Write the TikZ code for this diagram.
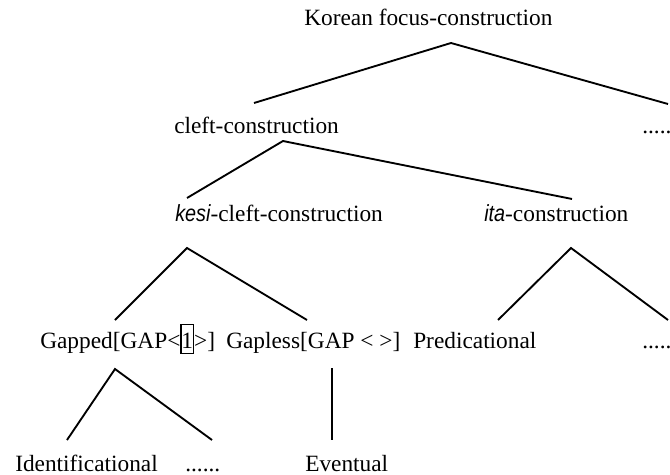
\documentclass[tikz,border=0pt]{standalone}
\usepackage{fontspec}
\setmainfont{Liberation Serif}
\newfontfamily\itsans[FakeStretch=0.85]{Liberation Sans}
\newcommand{\obj}[1]{{\itsans\itshape #1}}
\newcommand{\tagbox}[1]{{\setlength{\fboxsep}{0pt}\setlength{\fboxrule}{0.8pt}\fbox{\rule[-3.75pt]{0pt}{21pt}#1}}}
\begin{document}
\begin{tikzpicture}[x=0.75pt,y=-0.75pt,
  lbl/.style={anchor=base west,inner sep=0pt,font=\fontsize{17.5pt}{21pt}\selectfont},
  branch/.style={line width=1.4pt,line join=miter}]
\useasboundingbox (0,0) rectangle (670,474);

% labels
\node[lbl] (root)   at (304,25.5) {Korean focus-construction};
\node[lbl] (cleft)  at (174,133) {cleft-construction};
\node[lbl] (more1)  at (642,133) {.....};
\node[lbl] (kesi)   at (175,221) {\obj{kesi}-cleft-construction};
\node[lbl] (ita)    at (484,221) {\obj{ita}-construction};
\node[lbl] (gapped) at (40,348) {Gapped[GAP<\tagbox{1}>]};
\node[lbl] (gapless) at (226,348) {Gapless[GAP < >]};
\node[lbl] (pred)   at (413,348) {Predicational};
\node[lbl] (more2)  at (642,348) {......};
\node[lbl] (ident)  at (15,471) {Identificational};
\node[lbl] (more3)  at (185,471) {......};
\node[lbl] (event)  at (305,471) {Eventual};

% branch points
\coordinate (rootTop)  at (451,43);
\coordinate (rootL)    at (254,103);
\coordinate (rootR)    at (668,104);
\coordinate (cleftTop) at (283,141);
\coordinate (cleftL)   at (187,198);
\coordinate (cleftR)   at (572,199);
\coordinate (kesiTop)  at (187,248);
\coordinate (kesiL)    at (115,320);
\coordinate (kesiR)    at (307,320);
\coordinate (itaTop)   at (571,248);
\coordinate (itaL)     at (498,320);
\coordinate (itaR)     at (668,320);
\coordinate (gapTop)   at (115,369);
\coordinate (gapL)     at (67,440);
\coordinate (gapR)     at (212,440);
\coordinate (evTop)    at (332,368);
\coordinate (evBot)    at (332,440);

% branches
\draw[branch] (rootL) -- (rootTop) -- (rootR);
\draw[branch] (cleftL) -- (cleftTop) -- (cleftR);
\draw[branch] (kesiL) -- (kesiTop) -- (kesiR);
\draw[branch] (itaL) -- (itaTop) -- (itaR);
\draw[branch] (gapL) -- (gapTop) -- (gapR);
\draw[branch] (evTop) -- (evBot);
\end{tikzpicture}
\end{document}
